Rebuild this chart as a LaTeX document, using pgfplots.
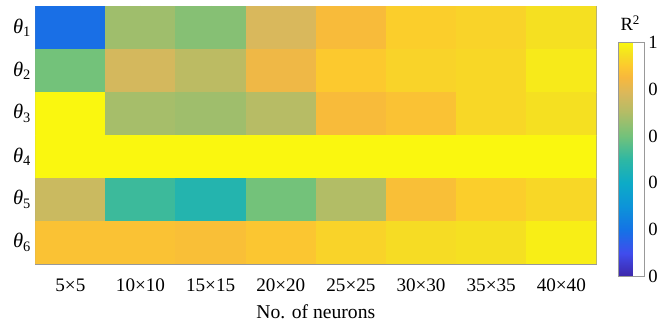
\documentclass[border=0pt]{standalone}
\usepackage{fontspec}
\setmainfont{Liberation Serif}
\usepackage{pgfplots}
\pgfplotsset{compat=1.18}
\usepackage{pgfplotstable}
\pgfplotstableread{
x y C
0 0 0.19
1 0 0.67
2 0 0.63
3 0 0.78
4 0 0.86
5 0 0.91
6 0 0.92
7 0 0.95
0 1 0.60
1 1 0.77
2 1 0.72
3 1 0.83
4 1 0.90
5 1 0.92
6 1 0.93
7 1 0.97
0 2 1.00
1 2 0.68
2 2 0.67
3 2 0.71
4 2 0.86
5 2 0.88
6 2 0.93
7 2 0.95
0 3 1.00
1 3 1.00
2 3 1.00
3 3 1.00
4 3 1.00
5 3 1.00
6 3 1.00
7 3 1.00
0 4 0.75
1 4 0.52
2 4 0.47
3 4 0.60
4 4 0.70
5 4 0.87
6 4 0.91
7 4 0.93
0 5 0.88
1 5 0.88
2 5 0.87
3 5 0.89
4 5 0.92
5 5 0.94
6 5 0.95
7 5 0.98
}\datatable
\begin{document}
\begin{tikzpicture}[x=1pt,y=1pt]
\begin{axis}[
  scale only axis,
  width=572pt, height=263pt,
  at={(0pt,0pt)}, anchor=south west,
  xmin=-0.5, xmax=7.5, ymin=-0.5, ymax=5.5,
  enlargelimits=false,
  y dir=reverse,
  axis line style={draw=black!40},
  tick style={draw=black!50},
  tick align=inside,
  major tick length=4pt,
  xtick={0,...,7},
  xticklabels={5×5,10×10,15×15,20×20,25×25,30×30,35×35,40×40},
  ytick={0,...,5},
  yticklabels={\textit{θ}\textsubscript{1},\textit{θ}\textsubscript{2},\textit{θ}\textsubscript{3},\textit{θ}\textsubscript{4},\textit{θ}\textsubscript{5},\textit{θ}\textsubscript{6}},
  xticklabel style={font=\fontsize{19.5}{21}\selectfont, yshift=-12pt},
  yticklabel style={font=\fontsize{21}{23}\selectfont, xshift=-1pt},
  xlabel={No. of neurons},
  xlabel style={font=\fontsize{20}{22}\selectfont, yshift=-6pt},
  colormap={parulaish}{
    rgb(0pt)=(0.24,0.15,0.66);
    rgb(10pt)=(0.25,0.30,0.93);
    rgb(20pt)=(0.08,0.45,0.90);
    rgb(30pt)=(0.05,0.58,0.85);
    rgb(40pt)=(0.05,0.67,0.78);
    rgb(50pt)=(0.18,0.72,0.64);
    rgb(60pt)=(0.45,0.76,0.48);
    rgb(70pt)=(0.70,0.74,0.40);
    rgb(78pt)=(0.85,0.72,0.36);
    rgb(85pt)=(0.97,0.72,0.24);
    rgb(90pt)=(0.99,0.79,0.18);
    rgb(95pt)=(0.96,0.88,0.13);
    rgb(100pt)=(0.98,0.97,0.06)},
  point meta min=0, point meta max=1,
  colorbar,
  colorbar style={
    at={(parent axis.north east)}, anchor=north west,
    xshift=14pt, yshift=-37pt,
    scale only axis,
    width=26pt, height=239pt,
    axis line style={draw=black!40},
    ytick={0,0.2,0.4,0.6,0.8,1},
    yticklabels={0,0,0,0,0,1},
    major tick length=0pt,
    yticklabel style={font=\fontsize{19}{21}\selectfont, xshift=1pt},
    title={R\textsuperscript{2}},
    title style={font=\fontsize{19}{21}\selectfont, yshift=2pt, xshift=-1pt},
  },
]
\addplot[matrix plot*, mesh/cols=8, point meta=explicit] table[x=x, y=y, meta=C] {\datatable};
\end{axis}
\path[use as bounding box] (-36pt,-55pt) rectangle (625pt,269pt);
\end{tikzpicture}
\end{document}
